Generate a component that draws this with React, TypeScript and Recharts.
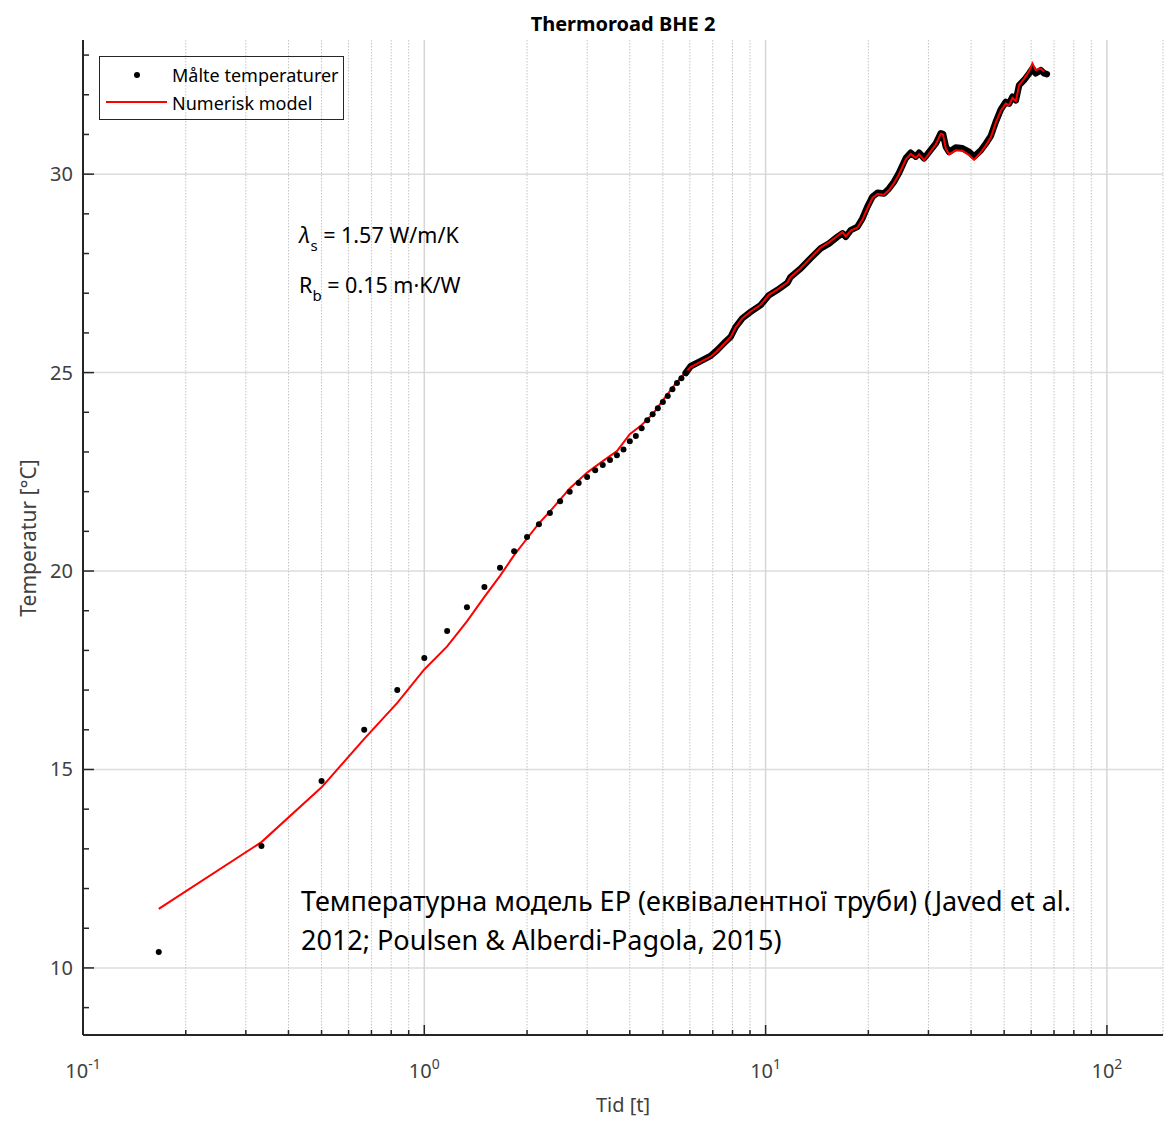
import React from 'react';
import { ComposedChart, XAxis, YAxis, CartesianGrid, Line, Legend } from 'recharts';

const FONT = '"Noto Sans", sans-serif';
const AXIS_COLOR = '#262626';

// Measured temperatures, early sparse part (t in days)
const sparseTimes = [0.1667, 0.3333, 0.5, 0.6667, 0.8333, 1.0, 1.1667, 1.3333, 1.5, 1.6667, 1.8333, 2.0, 2.1667, 2.3333, 2.5, 2.6667, 2.8333, 3.0, 3.1667, 3.3333, 3.5, 3.6667, 3.8333, 4.0, 4.1667, 4.3333, 4.5, 4.6667, 4.8333, 5.0, 5.1667, 5.3333, 5.5, 5.6667, 5.8333];
const sparseTemps = [10.4, 13.07, 14.71, 16.0, 17.0, 17.81, 18.49, 19.09, 19.6, 20.08, 20.5, 20.86, 21.18, 21.46, 21.76, 22.0, 22.22, 22.37, 22.54, 22.67, 22.8, 22.92, 23.06, 23.27, 23.4, 23.6, 23.8, 23.95, 24.1, 24.26, 24.41, 24.58, 24.74, 24.86, 24.99];

// Measured temperatures, dense part
const denseTimes = [5.8333, 6.03, 6.45, 6.9, 7.22, 7.55, 7.9, 8.17, 8.55, 9.04, 9.67, 10.23, 10.82, 11.58, 11.84, 12.67, 13.55, 14.5, 15.33, 16.23, 16.79, 17.17, 17.76, 18.57, 19.21, 19.87, 20.56, 21.27, 22.23, 23.0, 23.79, 24.6, 25.74, 26.62, 27.54, 28.16, 29.13, 30.13, 31.52, 32.61, 33.1, 33.73, 34.48, 36.07, 37.74, 39.47, 40.82, 42.71, 44.18, 45.69, 47.26, 48.88, 50.56, 51.7, 52.9, 54.1, 55.3, 57.2, 59.2, 60.5, 61.9, 64.0, 65.5, 66.7];
const denseTemps = [24.99, 25.16, 25.29, 25.42, 25.57, 25.74, 25.9, 26.15, 26.37, 26.53, 26.7, 26.95, 27.08, 27.26, 27.41, 27.62, 27.88, 28.13, 28.25, 28.42, 28.51, 28.42, 28.59, 28.67, 28.88, 29.18, 29.43, 29.53, 29.51, 29.64, 29.81, 30.03, 30.4, 30.54, 30.44, 30.54, 30.4, 30.56, 30.77, 31.03, 31.01, 30.69, 30.56, 30.67, 30.65, 30.56, 30.44, 30.6, 30.77, 30.96, 31.32, 31.63, 31.82, 31.78, 31.95, 31.86, 32.24, 32.37, 32.54, 32.66, 32.54, 32.62, 32.54, 32.52];

// Numerical model
const modelTimes = [0.1667, 0.3333, 0.5, 0.6667, 0.8333, 1.0, 1.1667, 1.3333, 1.5, 1.6667, 1.8333, 2.0, 2.1667, 2.3333, 2.5, 2.6667, 3.0, 3.3333, 3.6667, 4.0, 4.3333, 4.6667, 5.0, 5.3333, 5.6667, 6.03, 6.45, 6.9, 7.22, 7.55, 7.9, 8.17, 8.55, 9.04, 9.67, 10.23, 10.82, 11.58, 11.84, 12.67, 13.55, 14.5, 15.33, 16.23, 16.79, 17.17, 17.76, 18.57, 19.21, 19.87, 20.56, 21.27, 22.23, 23.0, 23.79, 24.6, 25.74, 26.62, 27.54, 28.16, 29.13, 30.13, 31.52, 32.61, 33.1, 33.73, 34.48, 36.07, 37.74, 39.47, 40.82, 42.71, 44.18, 45.69, 47.26, 48.88, 50.56, 51.7, 52.9, 54.1, 55.3, 57.2, 59.2, 60.5, 61.9, 64.0, 65.5];
const modelTemps = [11.49, 13.17, 14.55, 15.77, 16.68, 17.52, 18.1, 18.73, 19.35, 19.88, 20.4, 20.82, 21.2, 21.5, 21.8, 22.08, 22.48, 22.77, 23.02, 23.45, 23.68, 23.95, 24.3, 24.62, 24.9, 25.14, 25.27, 25.4, 25.55, 25.72, 25.9, 26.14, 26.37, 26.54, 26.71, 26.96, 27.09, 27.27, 27.41, 27.63, 27.89, 28.15, 28.28, 28.44, 28.54, 28.43, 28.58, 28.65, 28.85, 29.14, 29.4, 29.5, 29.48, 29.6, 29.78, 30.0, 30.37, 30.51, 30.41, 30.5, 30.35, 30.52, 30.75, 31.02, 31.0, 30.64, 30.5, 30.6, 30.59, 30.48, 30.36, 30.55, 30.72, 30.93, 31.3, 31.6, 31.78, 31.74, 31.92, 31.84, 32.24, 32.4, 32.6, 32.79, 32.62, 32.66, 32.58];

const xTicks = [0.1, 0.2, 0.3, 0.4, 0.5, 0.6, 0.7, 0.8, 0.9, 1, 2, 3, 4, 5, 6, 7, 8, 9, 10, 20, 30, 40, 50, 60, 70, 80, 90, 100];
const xMajor = [0.1, 1, 10, 100];
const xMajorExp = ['-1', '0', '1', '2'];
const yTicks = [9, 10, 11, 12, 13, 14, 15, 16, 17, 18, 19, 20, 21, 22, 23, 24, 25, 26, 27, 28, 29, 30, 31, 32, 33];
const yLabels = [10, 15, 20, 25, 30];

const sparseData = sparseTimes.map((t, i) => ({ t, T: sparseTemps[i] }));
const denseData = denseTimes.map((t, i) => ({ t, T: denseTemps[i] }));
const modelData = modelTimes.map((t, i) => ({ t, T: modelTemps[i] }));

const XTick = (props: any) => {
  const { x, y, payload } = props;
  const v = payload.value;
  const mi = xMajor.findIndex((m) => Math.abs(m - v) < 1e-9);
  const major = mi >= 0;
  return (
    <g>
      <line x1={x} x2={x} y1={y} y2={y - (major ? 10 : 5)} stroke={AXIS_COLOR} strokeWidth={1.5} />
      {major && (
        <text x={x} y={y + 43} textAnchor="middle" fontSize={20} fill="#404040" fontFamily={FONT}>
          10<tspan dy={-9} fontSize={14}>{xMajorExp[mi]}</tspan>
        </text>
      )}
    </g>
  );
};

const YTick = (props: any) => {
  const { x, y, payload } = props;
  const v = payload.value;
  const major = yLabels.includes(v);
  return (
    <g>
      <line x1={x} x2={x + (major ? 11 : 6)} y1={y} y2={y} stroke={AXIS_COLOR} strokeWidth={1.5} />
      {major && (
        <text x={x - 10} y={y + 7} textAnchor="end" fontSize={20} fill="#404040" fontFamily={FONT}>
          {v}
        </text>
      )}
    </g>
  );
};

const Dot = (p: any) => <circle key={p.key} cx={p.cx} cy={p.cy} r={3} fill="#000" />;

const LegendBox = () => (
  <div
    style={{
      width: 245,
      height: 64,
      boxSizing: 'border-box',
      border: `1.5px solid ${AXIS_COLOR}`,
      fontFamily: FONT,
      fontSize: 18,
      color: '#000',
      position: 'relative',
    }}
  >
    <div style={{ position: 'absolute', left: 34, top: 15, width: 6, height: 6, borderRadius: 3, background: '#000' }} />
    <div style={{ position: 'absolute', left: 72, top: 5, lineHeight: '26px', whiteSpace: 'nowrap' }}>Målte temperaturer</div>
    <div style={{ position: 'absolute', left: 6, top: 44, width: 61, height: 2, background: '#ff0000' }} />
    <div style={{ position: 'absolute', left: 72, top: 33, lineHeight: '26px', whiteSpace: 'nowrap' }}>Numerisk model</div>
  </div>
);

export default function App() {
  return (
    <div style={{ position: 'absolute', left: 0, top: 0, width: 1165, height: 1124, background: '#fff', fontFamily: FONT }}>
      <ComposedChart width={1165} height={1124} margin={{ top: 40, right: 2, bottom: 29, left: 23 }}>
        <CartesianGrid
          horizontal={(p: any) =>
            yLabels.includes(yTicks[p.index]) ? (
              <line key={p.key} x1={p.x1} y1={p.y1} x2={p.x2} y2={p.y2} stroke="#dcdcdc" strokeWidth={1.5} />
            ) : (
              <g key={p.key} />
            )
          }
          vertical={(p: any) => {
            const major = xMajor.some((m) => Math.abs(m - xTicks[p.index]) < 1e-9);
            return (
              <line
                key={p.key}
                x1={p.x1}
                y1={p.y1}
                x2={p.x2}
                y2={p.y2}
                stroke={major ? '#d6d6d6' : '#c4c4c4'}
                strokeWidth={major ? 1.5 : 1}
                strokeDasharray={major ? undefined : '1.5 1.5'}
              />
            );
          }}
        />
        <XAxis
          type="number"
          dataKey="t"
          scale="log"
          domain={[0.1, 146]}
          allowDataOverflow
          ticks={xTicks}
          interval={0}
          height={60}
          tickSize={0}
          tickMargin={0}
          tickLine={false}
          tick={<XTick />}
          axisLine={{ stroke: AXIS_COLOR, strokeWidth: 2 }}
        />
        <YAxis
          type="number"
          dataKey="T"
          domain={[8.31, 33.38]}
          allowDataOverflow
          ticks={yTicks}
          interval={0}
          width={60}
          tickSize={0}
          tickMargin={0}
          tickLine={false}
          tick={<YTick />}
          axisLine={{ stroke: AXIS_COLOR, strokeWidth: 2 }}
        />
        <Legend
          layout="horizontal"
          verticalAlign="middle"
          align="center"
          content={() => <LegendBox />}
          wrapperStyle={{ position: 'absolute', left: 99, top: 56, width: 245, height: 64 }}
        />
        <Line
          name="Målte temperaturer"
          data={sparseData}
          dataKey="T"
          type="linear"
          stroke="none"
          dot={Dot}
          activeDot={false}
          isAnimationActive={false}
        />
        <Line
          name="Målte temperaturer (tæt)"
          data={denseData}
          dataKey="T"
          type="linear"
          stroke="#000"
          strokeWidth={6.5}
          strokeLinejoin="round"
          strokeLinecap="round"
          dot={false}
          activeDot={false}
          isAnimationActive={false}
          legendType="none"
        />
        <Line
          name="Numerisk model"
          data={modelData}
          dataKey="T"
          type="linear"
          stroke="#ff0000"
          strokeWidth={2}
          dot={false}
          activeDot={false}
          isAnimationActive={false}
        />
      </ComposedChart>

      <div style={{ position: 'absolute', left: 83, top: 11, width: 1080, textAlign: 'center', fontSize: 20, fontWeight: 700, lineHeight: '26px', color: '#000' }}>
        Thermoroad BHE 2
      </div>
      <div style={{ position: 'absolute', left: 83, top: 1091, width: 1080, textAlign: 'center', fontSize: 20, lineHeight: '28px', color: '#404040' }}>
        Tid [t]
      </div>
      <div
        style={{
          position: 'absolute',
          left: 28,
          top: 538,
          transform: 'translate(-50%, -50%) rotate(-90deg)',
          whiteSpace: 'nowrap',
          fontSize: 21,
          lineHeight: '28px',
          color: '#404040',
        }}
      >
        Temperatur [°C]
      </div>
      <div style={{ position: 'absolute', left: 299, top: 220, fontSize: 21.5, lineHeight: '30px', color: '#000', whiteSpace: 'nowrap' }}>
        <span style={{ fontStyle: 'italic' }}>λ</span>
        <span style={{ fontSize: 15, position: 'relative', top: 8 }}>s</span> = 1.57 W/m/K
      </div>
      <div style={{ position: 'absolute', left: 299, top: 270, fontSize: 21.5, lineHeight: '30px', color: '#000', whiteSpace: 'nowrap' }}>
        R<span style={{ fontSize: 15, position: 'relative', top: 8 }}>b</span> = 0.15 m·K/W
      </div>
      <div style={{ position: 'absolute', left: 301, top: 881, fontSize: 27, lineHeight: '39px', color: '#000', whiteSpace: 'nowrap' }}>
        Температурна модель EP (еквівалентної труби) (Javed et al.
        <br />
        2012; Poulsen &amp; Alberdi-Pagola, 2015)
      </div>
    </div>
  );
}
